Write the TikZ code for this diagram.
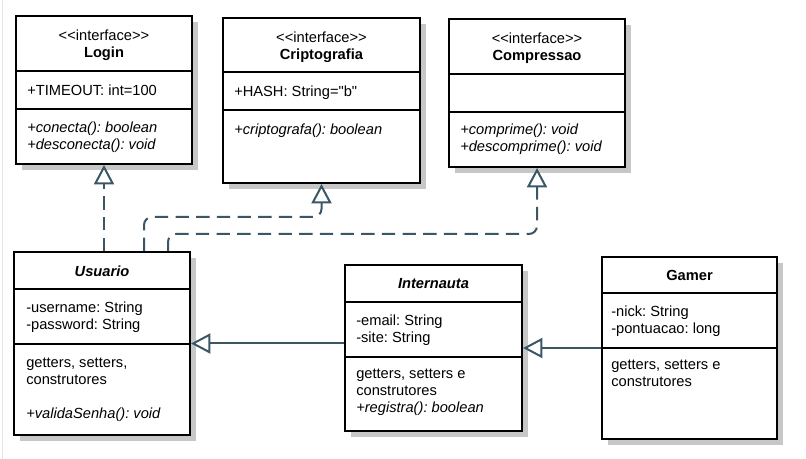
\documentclass[tikz,border=0pt]{standalone}
\usepackage{fontspec}
\newfontfamily\umlfont{Liberation Sans}
\usetikzlibrary{arrows.meta,fit,shadows,calc}
\definecolor{edgeblue}{HTML}{3B5766}
\tikzset{
  umlbox/.style={draw=black, line width=1.5pt, fill=white, inner sep=0pt,
    drop shadow={shadow xshift=4.5pt, shadow yshift=-4.5pt, fill=black!22, opacity=1}},
  sepline/.style={line width=1.5pt},
  septick/.style={black!28, line width=0.75pt},
  headtext/.style={align=center, inner sep=0pt, font=\umlfont\fontsize{11}{12.75}\selectfont\frenchspacing},
  bodytext/.style={align=left, anchor=north west, inner sep=0pt,
    font=\umlfont\fontsize{11}{12.75}\selectfont\frenchspacing, execute at begin node=\strut},
  realize/.style={edgeblue, line width=1.5pt, dash pattern=on 10pt off 5.5pt, rounded corners=6pt,
    -{Triangle[open, length=14.5pt, width=15pt]}},
  extend/.style={edgeblue, line width=1.5pt, -{Triangle[open, length=14.5pt, width=15pt]}}
}
\begin{document}
\begin{tikzpicture}[x=0.75pt, y=-0.75pt]
    \useasboundingbox (0,0) rectangle (806,459);
    \draw[black!10, line width=0.75pt] (2,0) -- (2,459);
    \foreach \r/\s in {192/71, 192/109, 420/72, 420/110, 625/74, 625/112,
                       190/289, 190/344, 522/302, 522/357, 777/293, 777/348}
      \draw[septick] (\r,\s+6) -- (\r+6,\s+6);
    \node[umlbox, fit={(16,16)(192,164)}] (login) {};
    \draw[sepline] (16,71) -- (192,71);
    \draw[sepline] (16,109) -- (192,109);
    \node[headtext] (login-name) at (104,45.5) {<<interface>>\\\textbf{Login}};
    \node[bodytext] (login-attr) at (27,83.5) {+TIMEOUT: int=100};
    \node[bodytext] (login-meth) at (27,121.5) {\textit{+conecta(): boolean}\\\textit{+desconecta(): void}};
    \node[umlbox, fit={(223,18)(420,183)}] (cripto) {};
    \draw[sepline] (223,72) -- (420,72);
    \draw[sepline] (223,110) -- (420,110);
    \node[headtext] (cripto-name) at (321.5,47) {<<interface>>\\\textbf{Criptografia}};
    \node[bodytext] (cripto-attr) at (234,84.5) {+HASH: String="b"};
    \node[bodytext] (cripto-meth) at (234,122.5) {\textit{+criptografa(): boolean}};
    \node[umlbox, fit={(449,19)(625,167)}] (compr) {};
    \draw[sepline] (449,74) -- (625,74);
    \draw[sepline] (449,112) -- (625,112);
    \node[headtext] (compr-name) at (537,48.5) {<<interface>>\\\textbf{Compressao}};
    \node[bodytext] (compr-meth) at (460,124) {\textit{+comprime(): void}\\\textit{+descomprime(): void}};
    \node[umlbox, fit={(14,252)(190,435)}] (usuario) {};
    \draw[sepline] (14,289) -- (190,289);
    \draw[sepline] (14,344) -- (190,344);
    \node[headtext] (usuario-name) at (102,271) {\textbf{\textit{Usuario}}};
    \node[bodytext] (usuario-attr) at (26,301.5) {-username: String\\-password: String};
    \node[bodytext] (usuario-meth) at (26,358) {getters, setters,\\construtores\\[12.75pt]\textit{+validaSenha(): void}};
    \node[umlbox, fit={(345,265)(522,431)}] (internauta) {};
    \draw[sepline] (345,302) -- (522,302);
    \draw[sepline] (345,357) -- (522,357);
    \node[headtext] (internauta-name) at (433.5,284) {\textbf{\textit{Internauta}}};
    \node[bodytext] (internauta-attr) at (356,314.5) {-email: String\\-site: String};
    \node[bodytext] (internauta-meth) at (356,369) {getters, setters e\\construtores\\\textit{+registra(): boolean}};
    \node[umlbox, fit={(602,257)(777,439)}] (gamer) {};
    \draw[sepline] (602,293) -- (777,293);
    \draw[sepline] (602,348) -- (777,348);
    \node[headtext] (gamer-name) at (689.5,275.5) {\textbf{Gamer}};
    \node[bodytext] (gamer-attr) at (611,305.5) {-nick: String\\-pontuacao: long};
    \node[bodytext] (gamer-meth) at (611,360) {getters, setters e\\construtores};
    \draw[realize] (login.south |- usuario.north) -- (login.south);
    \draw[realize] ($(usuario.north)+(42,0)$) -- ++(0,-34) -| (cripto.south);
    \draw[realize] ($(usuario.north)+(66,0)$) -- ++(0,-17) -| (compr.south);
    \draw[extend] (internauta.west |- usuario.east) -- (usuario.east);
    \draw[extend] (gamer.west) -- (internauta.east);
\end{tikzpicture}
\end{document}
